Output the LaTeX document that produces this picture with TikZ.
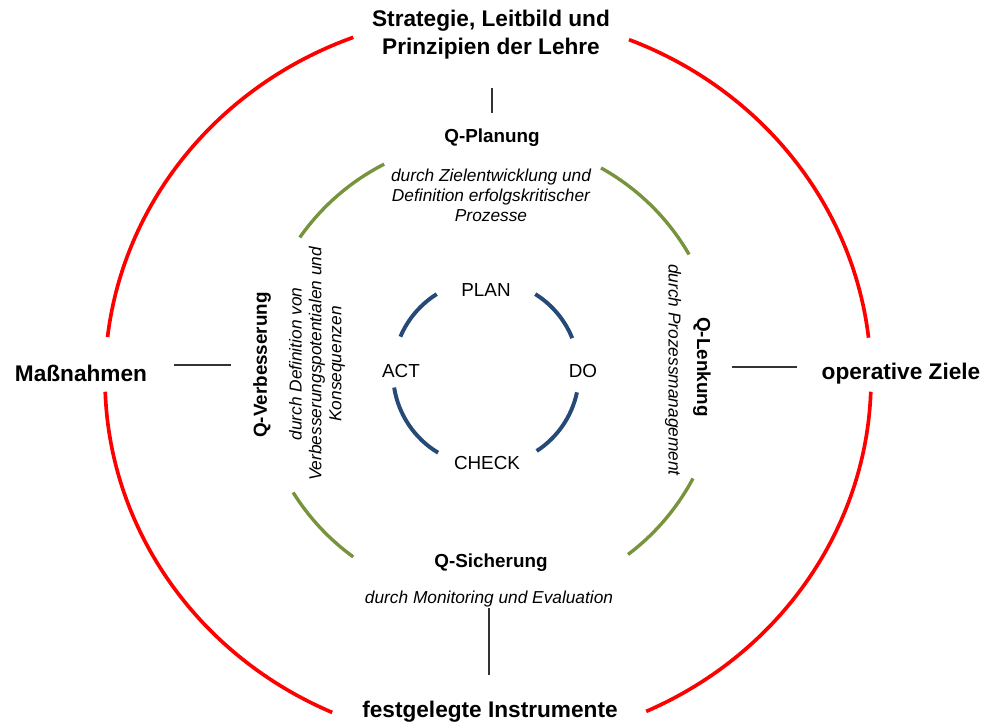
\documentclass[tikz,border=0pt]{standalone}
\usepackage{fontspec}
\setmainfont{Liberation Sans}
\definecolor{qred}{RGB}{255,0,0}
\definecolor{qgreen}{RGB}{119,147,60}
\definecolor{qblue}{RGB}{38,74,120}
\begin{document}
\begin{tikzpicture}[x=0.025cm, y=0.025cm,
		outerlbl/.style={font=\fontsize{16.1}{19.9}\selectfont\bfseries, align=center, inner sep=0pt},
		qlbl/.style={font=\fontsize{13.4}{16}\selectfont\bfseries, inner sep=0pt},
		qtext/.style={font=\fontsize{12.3}{14.2}\selectfont\itshape, align=center, inner sep=0pt},
		pdca/.style={font=\fontsize{13.4}{16}\selectfont, inner sep=0pt},
		redarc/.style={draw=qred, line width=2.6pt},
		greenarc/.style={draw=qgreen, line width=2.4pt},
		bluearc/.style={draw=qblue, line width=2.8pt},
		tick/.style={draw=black!80, line width=0.9pt}]
			\useasboundingbox (0,0) rectangle (983,724);
			
			% outer ring
			\coordinate (cred) at (488,345);
			\foreach \a/\b in {110.6/173.4, 182/246, -65.6/-2, 6.5/68.4}
				\draw[redarc] (cred) ++(\a:383 and 365) arc[start angle=\a, end angle=\b, x radius=383, y radius=365];
			
			% Q ring
			\coordinate (cgreen) at (489,354);
			\foreach \a/\b in {117/145, 212/234, -53/-28, 30/61}
				\draw[greenarc] (cgreen) ++(\a:231) arc[start angle=\a, end angle=\b, radius=231];
			
			% PDCA ring
			\coordinate (cblue) at (486,351);
			\foreach \a/\b in {122/157, 189/239, -57/-12, 22/58}
				\draw[bluearc] (cblue) ++(\a:93) arc[start angle=\a, end angle=\b, radius=93];
			
			\node[outerlbl] (strat) at (491,689) {Strategie, Leitbild und\\Prinzipien der Lehre};
			\node[outerlbl] (mass) at (81,351) {Maßnahmen};
			\node[outerlbl] (ziele) at (901,350) {operative Ziele};
			\node[outerlbl] (instr) at (490,12) {festgelegte Instrumente};
			
			\node[qlbl] (planq) at (492,586) {Q-Planung};
			\node[qtext] (plant) at (491,529) {durch Zielentwicklung und\\Definition erfolgskritischer\\Prozesse};
			\node[qlbl] (sichq) at (491,161) {Q-Sicherung};
			\node[qtext] (sicht) at (489,125) {durch Monitoring und Evaluation};
			\node[qlbl, rotate=90] (verbq) at (262,359) {Q-Verbesserung};
			\node[qtext, rotate=90] (verbt) at (317,360) {durch Definition von\\Verbesserungspotentialen und\\Konsequenzen};
			\node[qlbl, rotate=-90] (lenkq) at (702,357) {Q-Lenkung};
			\node[qtext, rotate=-90] (lenkt) at (673,354) {durch Prozessmanagement};
			
			\node[pdca] (plan) at (486,434) {PLAN};
			\node[pdca] (do) at (583,353) {DO};
			\node[pdca] (check) at (487,261) {CHECK};
			\node[pdca] (act) at (401,353) {ACT};
			
			% short ties
			\coordinate (ttop1) at (492,636);
			\coordinate (ttop2) at (492,611);
			\coordinate (tbot1) at (489,116);
			\coordinate (tbot2) at (489,49);
			\coordinate (tleft1) at (174,359);
			\coordinate (tleft2) at (231,359);
			\coordinate (tright1) at (732,357);
			\coordinate (tright2) at (797,357);
			\draw[tick] (ttop1) -- (ttop2);
			\draw[tick] (tbot1) -- (tbot2);
			\draw[tick] (tleft1) -- (tleft2);
			\draw[tick] (tright1) -- (tright2);
	\end{tikzpicture}
\end{document}
